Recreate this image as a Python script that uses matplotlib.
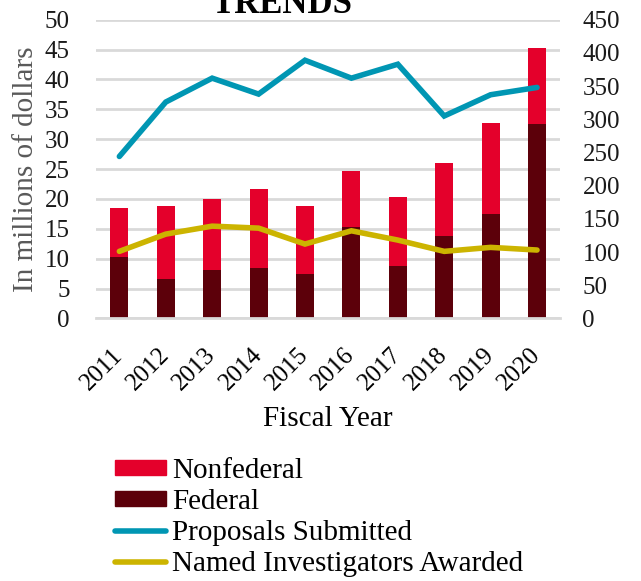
import numpy as np
from matplotlib import pyplot as plt
from matplotlib.patches import Patch
from matplotlib.lines import Line2D

# values
years = ["2011", "2012", "2013", "2014", "2015", "2016", "2017", "2018", "2019", "2020"]
federal = [10.2, 6.6, 8.1, 8.5, 7.5, 15.3, 8.7, 13.8, 17.5, 32.5]
total = [18.5, 18.8, 20.0, 21.7, 18.8, 24.7, 20.4, 26.0, 32.7, 45.2]
nonfederal = [t - f for t, f in zip(total, federal)]
proposals = [244, 326, 362, 338, 389, 362, 383, 305, 337, 348]
investigators = [101, 127, 139, 136, 112, 132, 118, 101, 107, 103]

red = "#E4002B"
maroon = "#5C000A"
teal = "#0096B3"
gold = "#CCB400"
grid = "#D9D9D9"

plt.rcParams['font.family'] = ['Liberation Serif', 'DejaVu Serif']

fig = plt.figure(figsize=(6.41, 5.81), dpi=100)
ax = fig.add_axes([0.150, 0.452, 0.724, 0.514])
ax2 = ax.twinx()

x = np.arange(len(years))
ax.bar(x, federal, width=0.39, color=maroon, zorder=2)
ax.bar(x, nonfederal, width=0.39, bottom=federal, color=red, zorder=2)

ax.set_ylim(0, 50)
ax.set_yticks(range(0, 51, 5))
ax.set_xlim(-0.5, len(years) - 0.5)
ax.yaxis.grid(True, color=grid, lw=2)
ax.set_axisbelow(True)
for s in ax.spines.values():
    s.set_visible(False)
ax.spines['bottom'].set_visible(True)
ax.spines['bottom'].set_color(grid)
ax.spines['bottom'].set_linewidth(2)

ax2.plot(x, proposals, color=teal, lw=4, solid_capstyle='round', solid_joinstyle='miter', zorder=3)
ax2.plot(x, investigators, color=gold, lw=4, solid_capstyle='round', solid_joinstyle='miter', zorder=3)
ax2.set_ylim(0, 450)
ax2.set_yticks(range(0, 451, 50))
for s in ax2.spines.values():
    s.set_visible(False)

ax.tick_params(axis='y', length=0, pad=19, labelsize=18, labelcolor="#1a1a1a")
ax2.tick_params(axis='y', length=0, pad=16, labelsize=18, labelcolor="#1a1a1a")
ax.tick_params(axis='x', length=0, pad=24, labelsize=18)
ax.set_xticks(x)
ax.set_xticklabels(years, rotation=45, ha='right', va='center', rotation_mode='anchor')

ax.set_ylabel("In millions of dollars", fontsize=21, color="#595959", labelpad=4)
ax.set_xlabel("Fiscal Year", fontsize=21, labelpad=8)

fig.text(0.44, 0.978, "TRENDS", fontsize=25, fontweight='bold', ha='center', va='baseline')

handles = [Patch(color=red), Patch(color=maroon),
           Line2D([], [], color=teal, lw=4, solid_capstyle='round'),
           Line2D([], [], color=gold, lw=4, solid_capstyle='round')]
labels = ["Nonfederal", "Federal", "Proposals Submitted", "Named Investigators Awarded"]
fig.legend(handles, labels, loc='upper left', bbox_to_anchor=(0.18, 0.212),
           frameon=False, fontsize=21, handlelength=1.75, handleheight=0.45,
           handletextpad=0.2, labelspacing=0.17, borderpad=0, borderaxespad=0)

fig.savefig("out.png", dpi=100)
